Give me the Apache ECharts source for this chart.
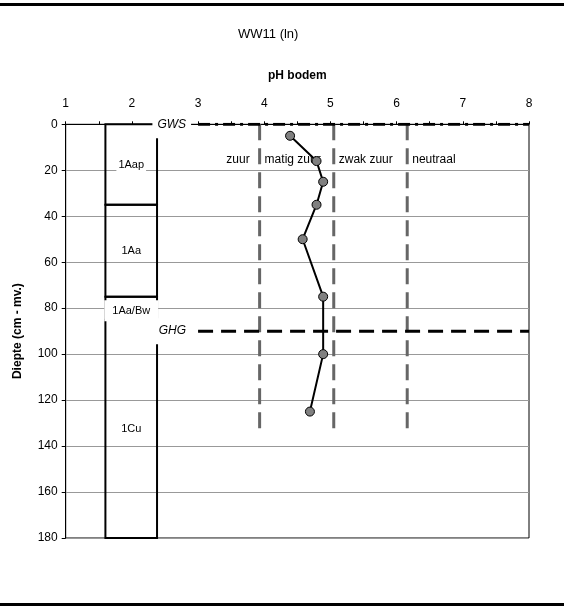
<!DOCTYPE html>
<html>
<head>
<meta charset="utf-8">
<script src="https://cdn.jsdelivr.net/npm/echarts@6/dist/echarts.min.js"></script>
<style>
  html, body { margin: 0; padding: 0; background: #fff; }
  #chart { width: 564px; height: 606px; }
</style>
</head>
<body>
<div id="chart"></div>
<script>
// pH profile of soil core WW11 (ln)
const phValues = [4.39, 4.79, 4.89, 4.79, 4.58, 4.89, 4.89, 4.69];
const phDepths = [5, 16, 25, 35, 50, 75, 100, 125];

// Soil horizons (cm below surface)
const horizonNames = ['1Aap', '1Aa', '1Aa/Bw', '1Cu'];
const horizonTops = [0, 35, 75, 85];
const horizonBottoms = [35, 75, 85, 180];

// Acidity classes and their pH boundaries
const classNames = ['zuur', 'matig zuur', 'zwak zuur', 'neutraal'];
const classBounds = [3.93, 5.05, 6.16];

// Groundwater levels (cm below surface)
const waterNames = ['GWS', 'GHG'];
const waterDepths = [0, 90];

const xTicks = [1, 2, 3, 4, 5, 6, 7, 8];
const yTicks = [0, 20, 40, 60, 80, 100, 120, 140, 160, 180];

const FONT = 'Liberation Sans, Arial, sans-serif';
const COL_LEFT = 1.6, COL_RIGHT = 2.38, COL_MID = (COL_LEFT + COL_RIGHT) / 2;
const LEVEL_START = 3, LEVEL_END = 8;
const CLASS_LINE_END = 135;
const CLASS_LABEL_DEPTH = 15.5;

const chart = echarts.init(document.getElementById('chart'), null, { renderer: 'canvas' });

const series = [];

// soil column: one box per horizon
series.push({
  type: 'custom',
  z: 3,
  silent: true,
  data: horizonTops.map((t, i) => [t, horizonBottoms[i]]),
  renderItem: function (params, api) {
    const p0 = api.coord([COL_LEFT, api.value(0)]);
    const p1 = api.coord([COL_RIGHT, api.value(1)]);
    return {
      type: 'rect',
      shape: { x: p0[0], y: p0[1], width: p1[0] - p0[0], height: p1[1] - p0[1] },
      style: { fill: 'none', stroke: '#000', lineWidth: 2 }
    };
  }
});

const plainText = {
  show: true,
  position: 'inside',
  formatter: '{b}',
  fontFamily: FONT,
  color: '#000',
  textBorderWidth: 0
};
const hiddenSymbol = { opacity: 1, color: 'transparent' };

// horizon names with white boxes
const horizonPad = [[3, 2], [3, 3], [4, 8], [2, 2]];
const horizonShift = [[0, 0], [0, 0], [0, 2.5], [0, 0]];
series.push({
  type: 'scatter',
  z: 6,
  silent: true,
  symbolSize: 0,
  itemStyle: hiddenSymbol,
  data: horizonNames.map((n, i) => ({
    value: [COL_MID, (horizonTops[i] + horizonBottoms[i]) / 2],
    name: n,
    label: { padding: horizonPad[i], offset: horizonShift[i] }
  })),
  label: Object.assign({}, plainText, { fontSize: 11, lineHeight: 13, backgroundColor: '#fff' })
});

// acidity class boundaries
classBounds.forEach(function (b) {
  series.push({
    type: 'line',
    z: 2,
    silent: true,
    symbol: 'none',
    data: [[b, 0], [b, CLASS_LINE_END]],
    lineStyle: { color: '#666', width: 3, type: [16, 8] }
  });
});

// acidity class names
series.push({
  type: 'scatter',
  z: 2,
  silent: true,
  symbolSize: 0,
  itemStyle: hiddenSymbol,
  data: classNames.map((n, i) => {
    const first = i === 0;
    return {
      value: [first ? classBounds[0] : classBounds[i - 1], CLASS_LABEL_DEPTH],
      name: n,
      label: { align: first ? 'right' : 'left', offset: [first ? -10 : 5, 0] }
    };
  }),
  label: Object.assign({}, plainText, { fontSize: 12 })
});

// groundwater levels
const waterDash = [[12, 5, 3, 5], [15, 8]];
waterNames.forEach(function (n, i) {
  series.push({
    type: 'line',
    z: 4,
    silent: true,
    symbol: 'none',
    data: [[LEVEL_START, waterDepths[i]], [LEVEL_END, waterDepths[i]]],
    lineStyle: { color: '#000', width: 3, type: waterDash[i] }
  });
});

// groundwater level names, boxed in white just left of each line
const waterPad = [[8, 5, 8, 5], [7, 10, 7, 3]];
const waterGap = [7, 2];
series.push({
  type: 'scatter',
  z: 5,
  silent: true,
  symbolSize: 0,
  itemStyle: hiddenSymbol,
  data: waterNames.map((n, i) => ({
    value: [LEVEL_START, waterDepths[i]],
    name: n,
    label: { padding: waterPad[i], distance: waterGap[i] }
  })),
  label: Object.assign({}, plainText, {
    position: 'left',
    fontSize: 12,
    fontStyle: 'italic',
    lineHeight: 12,
    backgroundColor: '#fff'
  })
});

// measured pH
series.push({
  type: 'line',
  z: 8,
  silent: true,
  symbol: 'circle',
  symbolSize: 9,
  data: phValues.map((v, i) => [v, phDepths[i]]),
  lineStyle: { color: '#000', width: 2 },
  itemStyle: { color: '#808080', borderColor: '#000', borderWidth: 1 }
});

chart.setOption({
  animation: false,
  backgroundColor: '#fff',
  textStyle: { fontFamily: FONT },
  grid: {
    left: 65.7, right: 35, top: 124.3, bottom: 68,
    show: true, borderColor: '#000', borderWidth: 1, backgroundColor: 'transparent'
  },
  graphic: [
    { type: 'text', left: 238, top: 28, style: { text: 'WW11 (ln)', font: '13px ' + FONT, fill: '#000' } },
    { type: 'line', shape: { x1: 0, y1: 4.5, x2: 564, y2: 4.5 }, style: { stroke: '#000', lineWidth: 3 } },
    { type: 'line', shape: { x1: 0, y1: 604.5, x2: 564, y2: 604.5 }, style: { stroke: '#000', lineWidth: 3 } }
  ],
  xAxis: {
    type: 'value',
    position: 'top',
    min: xTicks[0],
    max: xTicks[xTicks.length - 1],
    interval: 1,
    name: 'pH bodem',
    nameLocation: 'middle',
    nameGap: 43,
    nameTextStyle: { fontFamily: FONT, fontSize: 12, fontWeight: 'bold', color: '#000' },
    axisLine: { show: true, lineStyle: { color: '#000', width: 1 } },
    axisTick: { show: true, length: 3, lineStyle: { color: '#000' } },
    minorTick: { show: true, splitNumber: 2, length: 3, lineStyle: { color: '#000' } },
    splitLine: { show: false },
    axisLabel: { fontFamily: FONT, fontSize: 12, color: '#000', margin: 15 }
  },
  yAxis: {
    type: 'value',
    inverse: true,
    min: yTicks[0],
    max: yTicks[yTicks.length - 1],
    interval: 20,
    name: 'Diepte (cm - mv.)',
    nameLocation: 'middle',
    nameGap: 42,
    nameTextStyle: { fontFamily: FONT, fontSize: 12, fontWeight: 'bold', color: '#000' },
    axisLine: { show: true, lineStyle: { color: '#000', width: 1 } },
    axisTick: { show: true, length: 4, lineStyle: { color: '#000' } },
    splitLine: { show: true, lineStyle: { color: '#999', width: 1 } },
    axisLabel: { fontFamily: FONT, fontSize: 12, color: '#000', margin: 8 }
  },
  series: series
});
</script>
</body>
</html>
